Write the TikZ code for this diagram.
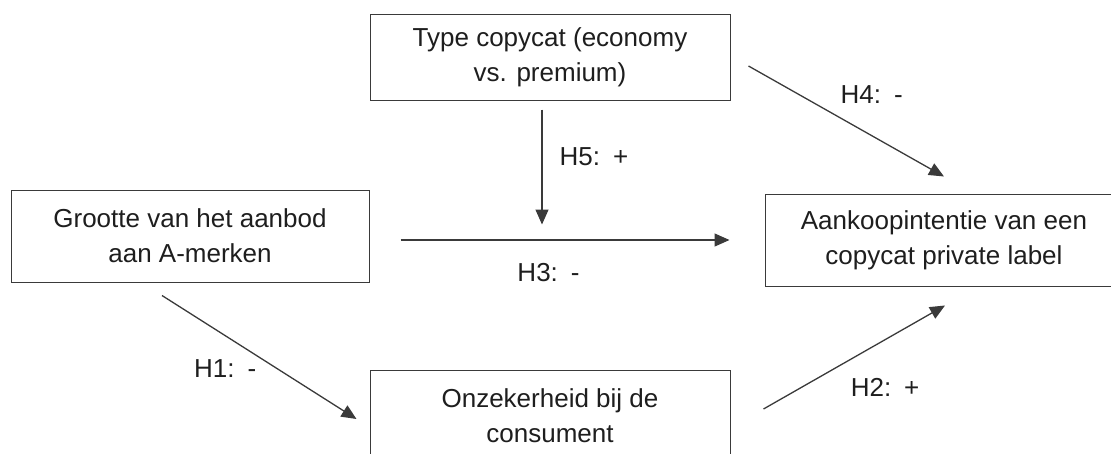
\documentclass[tikz,border=0pt]{standalone}
\usepackage{fontspec}
\setmainfont{Liberation Sans}
\usepackage{tikz}
\usetikzlibrary{positioning}
\usetikzlibrary{calc,arrows.meta}
\definecolor{cc-text}{HTML}{1E1E1E}
\definecolor{cc-line}{HTML}{3A3A3A}

\begin{document}
\begin{tikzpicture}[
    x=1pt, y=-1pt,                 % one unit per pixel of the sketch
    font=\fontsize{26}{35}\selectfont,
    >={Triangle[length=15pt,width=13pt]},
    text=cc-text
  ]

  % Box and arrow styles
  \tikzset{
    box/.style={draw=cc-line, line width=1pt, fill=white, minimum width=358pt, minimum height=92pt, align=center, inner sep=0pt},
    link/.style={->, cc-line, line width=1.3pt},
    hyp/.style={inner sep=0pt, text=cc-text}
  }

  \clip (0,0) rectangle (1111,453);

  % Independent variable
  \node (grootte) [box] at (190,236) {Grootte van het aanbod \\ aan A-merken};

  % Moderator on top
  \node (type) [box, minimum width=360pt, minimum height=86pt, above right=89pt and 0pt of grootte.north east] {Type copycat (economy \\ vs. premium)};

  % Dependent variable
  \node (aankoop) [box, below right=93pt and 34pt of type.south east] {Aankoopintentie van een \\ copycat private label};

  % Mediator at the bottom
  \node (onzeker) [box, minimum width=360pt, below right=87pt and 0pt of grootte.south east] {Onzekerheid bij de \\ consument};

  % Direct path and moderation
  \draw[link] ($(grootte.east)+(31,4)$) -- node[hyp, pos=0.45, yshift=-33pt] {H3:\enspace-} ($(aankoop.west)+(-35,0)$);
  \draw[link] ($(type.south)+(-8,9)$) -- node[hyp, pos=0.41, xshift=52pt] {H5:\enspace+} ($(type.south)+(-8,124)$);
  \draw[link] ($(type.east)+(18,9)$) -- node[hyp, pos=0.63, yshift=41pt] {H4:\enspace-} ($(aankoop.north)+(0,-17)$);

  % Mediation through uncertainty
  \draw[link] ($(grootte.south)+(-28,13)$) -- node[hyp, pos=0.325, yshift=-33pt] {H1:\enspace-} ($(onzeker.west)+(-13,3)$);
  \draw[link] ($(onzeker.east)+(33,-7)$) -- node[hyp, pos=0.67, yshift=-48pt] {H2:\enspace+} ($(aankoop.south)+(1,19)$);

\end{tikzpicture}
\end{document}
